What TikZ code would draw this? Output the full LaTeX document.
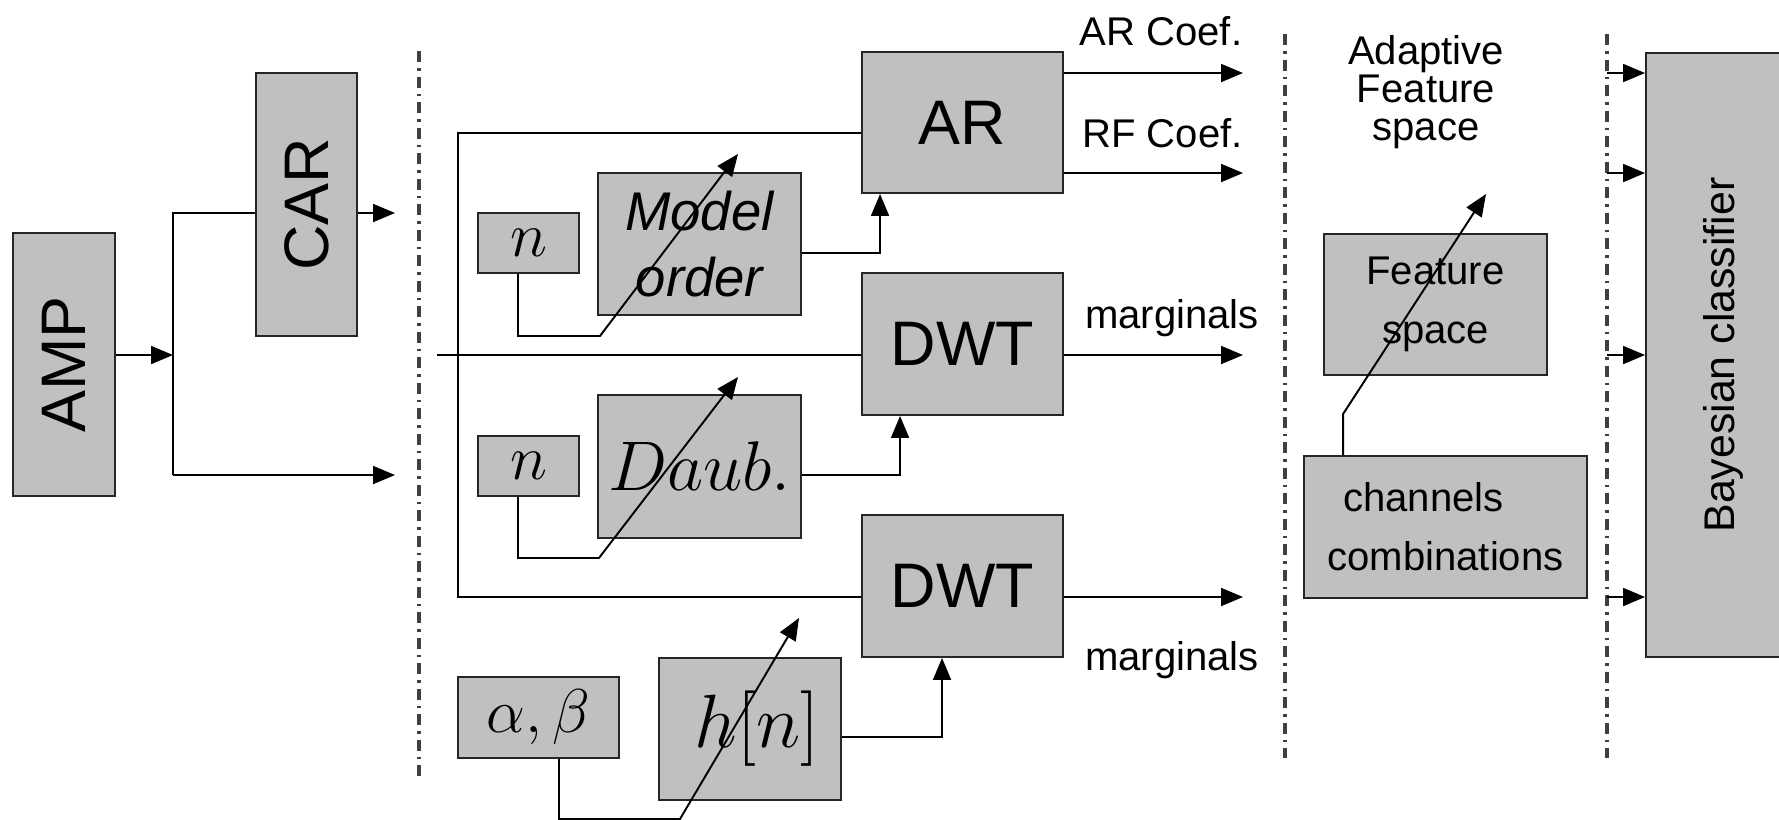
\documentclass[tikz,border=0pt]{standalone}
\usepackage{fix-cm}
\usepackage{fontspec}
\setmainfont{Liberation Sans}
\usepackage{graphicx}
\usepackage{tikz}
\usetikzlibrary{arrows.meta}

\definecolor{boxgray}{RGB}{192,192,194}
\newcommand{\fsBlock}{\fontsize{17.9pt}{21pt}\selectfont}
\newcommand{\fsLabel}{\fontsize{11.4pt}{13pt}\selectfont}
\newcommand{\fsBox}{\fontsize{11.4pt}{16.8pt}\selectfont}
\newcommand{\fsAdapt}{\fontsize{11.4pt}{10.8pt}\selectfont}
\newcommand{\fsBayes}{\fontsize{12.2pt}{14pt}\selectfont}
\newcommand{\fsModel}{\fontsize{15.5pt}{18.8pt}\selectfont\itshape}
\newcommand{\fsDaub}{\fontsize{20pt}{24pt}\selectfont}
\newcommand{\fsN}{\fontsize{18pt}{22pt}\selectfont}
\newcommand{\fsH}{\fontsize{21.5pt}{25pt}\selectfont}
\newcommand{\fsAB}{\fontsize{17.6pt}{21pt}\selectfont}

\begin{document}
\begin{tikzpicture}[x=1mm,y=-1mm,
  blk/.style={draw=black!85,fill=boxgray,line width=0.55pt,inner sep=0pt,align=center},
  con/.style={line width=0.55pt},
  arr/.style={line width=0.55pt,-{Triangle[length=2.2mm,width=1.8mm]}},
  sepline/.style={line width=0.9pt,black!75,dash pattern=on 1.1mm off 0.6mm on 0.25mm off 0.6mm},
  lbl/.style={inner sep=0pt,font=\fsLabel}]
\useasboundingbox (0,0) rectangle (177.9,81.9);
\clip (0,0) rectangle (177.9,81.9);

\draw[sepline] (41.9,5.1) -- (41.9,78.1);
\draw[sepline] (128.5,3.4) -- (128.5,75.8);
\draw[sepline] (160.7,3.4) coordinate (s3) -- (160.7,75.8);

\node[blk,minimum width=10.2mm,minimum height=26.3mm,font=\fsBlock] (amp) at (6.4,36.45) {\rotatebox{90}{AMP}};
\node[blk,minimum width=10.1mm,minimum height=26.3mm,font=\fsBlock] (car) at (30.65,20.45) {\rotatebox{90}{CAR}};
\node[blk,minimum width=20.1mm,minimum height=14.1mm,font=\fsBlock] (ar) at (96.25,12.25) {AR};
\node[blk,minimum width=20.1mm,minimum height=14.2mm,font=\fsBlock] (dwta) at (96.25,34.4) {DWT};
\node[blk,minimum width=20.1mm,minimum height=14.2mm,font=\fsBlock] (dwtb) at (96.25,58.6) {DWT};
\node[blk,minimum width=10.1mm,minimum height=6mm,font=\fsN] (n1) at (52.85,24.3) {$n$};
\node[blk,minimum width=20.3mm,minimum height=14.2mm,font=\fsModel] (model) at (69.95,24.4) {Model\\order};
\node[blk,minimum width=10.1mm,minimum height=6mm,font=\fsN] (n2) at (52.85,46.6) {$n$};
\node[blk,minimum width=20.3mm,minimum height=14.3mm,font=\fsDaub] (daub) at (69.95,46.65) {$Daub.$};
\node[blk,minimum width=16.1mm,minimum height=8.1mm,font=\fsAB] (ab) at (53.85,71.75) {$\alpha,\beta$};
\node[blk,minimum width=18.2mm,minimum height=14.2mm,font=\fsH] (hn) at (75,72.9) {\hspace*{1.4mm}$h[n]$};
\node[blk,minimum width=22.3mm,minimum height=14.1mm,font=\fsBox] (fs) at (143.55,30.45) {Feature\\space};
\node[blk,minimum width=28.3mm,minimum height=14.2mm,font=\fsBox] (cc) at (144.55,52.7) {channels\hspace*{4.4mm}\\combinations};
\node[blk,minimum width=15.4mm,minimum height=60.4mm,font=\fsBayes] (bayes) at (172.3,35.5) {\rotatebox{90}{Bayesian classifier}};

\node[lbl,anchor=base] (arlbl) at (116.1,4.5) {AR Coef.};
\node[lbl,anchor=base] (rflbl) at (116.25,14.7) {RF Coef.};
\node[lbl,anchor=base] (mgalbl) at (117.2,32.8) {marginals};
\node[lbl,anchor=base] (mgblbl) at (117.2,67.0) {marginals};
\node[lbl,align=center,font=\fsAdapt] (afs) at (142.6,9.25) {Adaptive\\Feature\\space};

\coordinate (jn) at (17.3,35.5);
\coordinate (jt) at (17.3,21.3);
\coordinate (jb) at (17.3,47.5);
\coordinate (carout) at (39.5,21.3);
\coordinate (rawout) at (39.5,47.5);
\draw[arr] (amp.east |- jn) -- (jn);
\draw[con] (car.west |- jt) -- (jt) -- (jb);
\draw[arr] (jb) -- (rawout);
\draw[arr] (car.east |- jt) -- (carout);

\coordinate (ft) at (45.8,13.3);
\coordinate (fb) at (45.8,59.7);
\coordinate (fin) at (43.7,35.5);
\draw[con] (ar.west |- ft) -- (ft) -- (fb) -- (dwtb.west |- fb);
\draw[con] (fin) -- (dwta.west |- fin);

\coordinate (t1) at (73.8,15.4);
\coordinate (t2) at (73.8,37.7);
\coordinate (t3) at (79.9,61.8);
\coordinate (t4) at (148.6,19.4);
\draw[arr] ([xshift=-1.05mm]n1.south) -- ++(0,6.2) -- ++(8.2,0) -- (t1);
\draw[arr] ([xshift=-1.05mm]n2.south) -- ++(0,6.1) -- ++(8.1,0) -- (t2);
\draw[arr] ([xshift=2.05mm]ab.south) -- ++(0,6.0) -- ++(12.1,0) -- (t3);
\draw[arr] ([xshift=4mm]cc.north west) -- ++(0,-4.1) -- (t4);

\draw[arr] ([yshift=-0.9mm]model.east) -| ([xshift=1.9mm]ar.south west);
\draw[arr] ([yshift=-0.85mm]daub.east) -| ([xshift=3.9mm]dwta.south west);
\draw[arr] ([yshift=-0.8mm]hn.east) -| ([xshift=8.1mm]dwtb.south west);

\coordinate (arco) at (124.3,7.3);
\coordinate (rfco) at (124.3,17.3);
\coordinate (mgao) at (124.3,35.5);
\coordinate (mgbo) at (124.3,59.7);
\draw[arr] (ar.east |- arco) -- (arco);
\draw[arr] (ar.east |- rfco) -- (rfco);
\draw[arr] (dwta.east |- mgao) -- (mgao);
\draw[arr] (dwtb.east |- mgbo) -- (mgbo);
\foreach \o in {arco,rfco,mgao,mgbo}
  \draw[arr] (\o -| s3) -- (\o -| bayes.west);
\end{tikzpicture}
\end{document}
